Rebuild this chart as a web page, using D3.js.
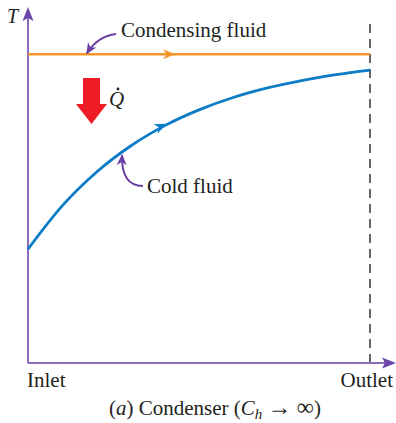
<!DOCTYPE html>
<html><head><meta charset="utf-8">
<script src="https://cdn.jsdelivr.net/npm/d3@7"></script>
<style>
html,body{margin:0;padding:0;background:#fff;}
svg{display:block;}
svg text{font-family:'Liberation Serif','DejaVu Serif',serif;}
</style></head>
<body>
<svg id="chart" width="396" height="423"></svg>
<script>
// ---- data ----
const positions = [0, 0.1, 0.2, 0.3, 0.4, 0.5, 0.6, 0.7, 0.8, 0.9, 1.0];
const coldFluidT = [36.9, 50.9, 61.8, 70.3, 76.9, 82.0, 86.0, 89.1, 91.5, 93.4, 94.9];
const condensingT = [100, 100];
const condensingPos = [0, 1];
const xTickLabels = ["Inlet", "Outlet"];
const seriesLabels = ["Condensing fluid", "Cold fluid"];

const FONT = "'Liberation Serif','DejaVu Serif',serif";
const svg = d3.select("#chart");
const x = d3.scaleLinear().domain([0, 1]).range([28, 370]);
const y = d3.scaleLinear().domain([0, 115]).range([363, 8]);

const axisColor = "#8b6cbf";
const calloutColor = "#6b3fa3";

// dashed outlet line
svg.append("line")
  .attr("x1", x(1)).attr("x2", x(1))
  .attr("y1", y(0)).attr("y2", 19)
  .attr("stroke", "#666").attr("stroke-width", 2)
  .attr("stroke-dasharray", "9,6");

// axes
svg.append("line").attr("x1", x(0)).attr("x2", x(0)).attr("y1", y(0)).attr("y2", 18)
  .attr("stroke", axisColor).attr("stroke-width", 2);
svg.append("line").attr("x1", x(0)).attr("x2", 386).attr("y1", y(0)).attr("y2", y(0))
  .attr("stroke", axisColor).attr("stroke-width", 2);
svg.append("path")
  .attr("d", `M${x(0)},7 L${x(0)+5.5},21 L${x(0)},18 L${x(0)-5.5},21 Z`)
  .attr("fill", "#6b46a8");
svg.append("path")
  .attr("d", `M396,${y(0)} L382,${y(0)-5.5} L385,${y(0)} L382,${y(0)+5.5} Z`)
  .attr("fill", "#6b46a8");

// condensing fluid line
const line = d3.line().x(d => x(d[0])).y(d => y(d[1]));
const condData = condensingPos.map((p, i) => [p, condensingT[i]]);
svg.append("path").datum(condData).attr("d", line)
  .attr("fill", "none").attr("stroke", "#f2962a").attr("stroke-width", 2.6);

// cold fluid curve
const coldData = positions.map((p, i) => [p, coldFluidT[i]]);
const curveLine = d3.line().x(d => x(d[0])).y(d => y(d[1])).curve(d3.curveMonotoneX);
svg.append("path").datum(coldData).attr("d", curveLine)
  .attr("fill", "none").attr("stroke", "#0b7cc5").attr("stroke-width", 2.8);

function arrowHead(px, py, angle, color, len, half) {
  const g = svg.append("g").attr("transform", `translate(${px},${py}) rotate(${angle})`);
  g.append("path")
    .attr("d", `M0,0 L${-len},${-half} L${-len*0.7},0 L${-len},${half} Z`)
    .attr("fill", color);
}
arrowHead(x(0.43), y(100), 0, "#f2962a", 12, 5);
{
  const t = 0.405;
  const i = 4;
  const f = (t - positions[i]) / (positions[i+1] - positions[i]);
  const T = coldFluidT[i] + f * (coldFluidT[i+1] - coldFluidT[i]);
  const ang = Math.atan2(y(coldFluidT[i+1]) - y(coldFluidT[i]), x(positions[i+1]) - x(positions[i])) * 180 / Math.PI;
  arrowHead(x(t), y(T) - 1, ang, "#0b7cc5", 12, 5);
}

function callout(x0, y0, cx, cy, x1, y1) {
  svg.append("path")
    .attr("d", `M${x0},${y0} Q${cx},${cy} ${x1},${y1}`)
    .attr("fill", "none").attr("stroke", calloutColor).attr("stroke-width", 2);
  const ang = Math.atan2(y1 - cy, x1 - cx) * 180 / Math.PI;
  const g = svg.append("g").attr("transform", `translate(${x1},${y1}) rotate(${ang})`);
  g.append("path").attr("d", "M1,0 L-10,-5 L-7,0 L-10,5 Z").attr("fill", calloutColor);
}
callout(116, 34, 98, 36, x(0.172), y(100) - 1);
callout(143, 186, 121, 186, x(0.275), y(68.0) + 2);

// heat arrow
svg.append("path")
  .attr("d", "M83,78 L100,78 L100,104 L107,104 L91.5,124 L76,104 L83,104 Z")
  .attr("fill", "#ee1c25");

function txt(xp, yp, size, s, italic, anchor) {
  return svg.append("text").attr("x", xp).attr("y", yp).attr("font-size", size)
    .attr("font-family", FONT)
    .attr("font-style", italic ? "italic" : "normal")
    .attr("text-anchor", anchor || "start")
    .attr("fill", "#231f20").text(s);
}
txt(7, 23, 20, "T", true);
txt(121, 37, 21, seriesLabels[0]);
txt(147, 193, 21, seriesLabels[1]);
txt(109, 106, 21, "Q", true);
svg.append("circle").attr("cx", 118).attr("cy", 89).attr("r", 1.4).attr("fill", "#231f20");
txt(x(0) - 1, 387, 21, xTickLabels[0]);
txt(393, 387, 21, xTickLabels[1], false, "end");

const cap = svg.append("text").attr("x", 215).attr("y", 415).attr("font-size", 21)
  .attr("font-family", FONT)
  .attr("text-anchor", "middle").attr("fill", "#231f20");
cap.append("tspan").text("(");
cap.append("tspan").attr("font-style", "italic").text("a");
cap.append("tspan").text(") Condenser (");
cap.append("tspan").attr("font-style", "italic").text("C");
cap.append("tspan").attr("font-style", "italic").attr("font-size", 15).attr("dy", 4).text("h");
cap.append("tspan").attr("dy", -4).text(" ");
cap.append("tspan").attr("font-size", 24).text("\u2192");
cap.append("tspan").text(" ");
cap.append("tspan").attr("font-size", 24).text("\u221E");
cap.append("tspan").text(")");
</script>
</body></html>
